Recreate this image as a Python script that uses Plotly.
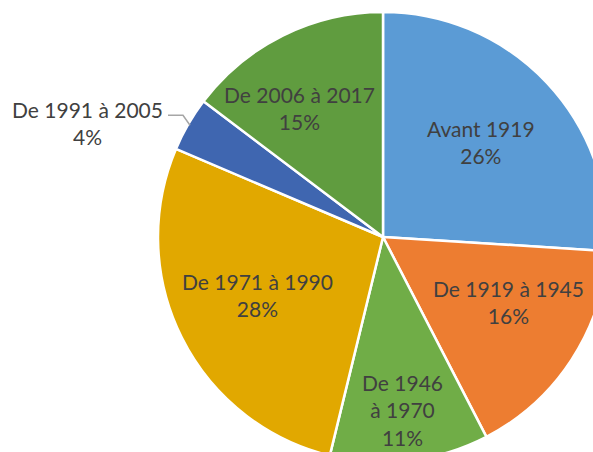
import math
import plotly.graph_objects as go

# ---- data ----
labels = ["Avant 1919", "De 1919 à 1945", "De 1946 à 1970", "De 1971 à 1990",
          "De 1991 à 2005", "De 2006 à 2017"]
values = [26.0, 16.4, 11.4, 27.6, 3.9, 14.7]
display = ["Avant 1919", "De 1919 à 1945", "De 1946<br>à 1970", "De 1971 à 1990",
           "De 1991 à 2005", "De 2006 à 2017"]

# ---- style ----
colors = ["#5B9BD5", "#ED7D31", "#70AD47", "#E1A800", "#3F66B0", "#609C3F"]
label_r = [0.605, 0.63, 0.78, 0.616, None, 0.68]      # label distance, fraction of radius
label_dang = [-0.5, -5.5, 0.6, 1.4, 0.0, -6.6]         # label angle tweak, degrees
outside_idx = 4                                        # small slice labelled outside
FONT = dict(family="Lato, Open Sans, sans-serif", size=21, color="#404040")

# ---- geometry (figure larger than window so the pie is cropped like the reference) ----
W, H = 640, 480
cx_px, cy_px, R = 383, 237, 225
xc, yc = cx_px / W, 1 - cy_px / H
dom_x = [xc - 0.38, xc + 0.38]
dom_y = [yc - R / H, yc + R / H]


def px(x, y):
    return x / W, 1 - y / H


fig = go.Figure(go.Pie(
    labels=labels, values=values,
    sort=False, direction="clockwise", rotation=0,
    marker=dict(colors=colors, line=dict(color="white", width=2.5)),
    textinfo="none", hoverinfo="label+percent", showlegend=False,
    domain=dict(x=dom_x, y=dom_y),
))

total = sum(values)
cum = 0
for i, v in enumerate(values):
    mid_deg = (cum + v / 2) / total * 360
    cum += v
    pct = round(v / total * 100)
    txt = f"{display[i]}<br>{pct}%"
    if i == outside_idx:
        a = math.radians(mid_deg)
        ax_px = cx_px + math.sin(a) * (R - 2)
        ay_px = cy_px - math.cos(a) * (R - 2)
        elbow = (ax_px - 7, ay_px - 10)
        end = (elbow[0] - 15, elbow[1])
        p0, p1, p2 = px(ax_px, ay_px), px(*elbow), px(*end)
        fig.add_shape(type="path", xref="paper", yref="paper",
                      path=f"M {p0[0]} {p0[1]} L {p1[0]} {p1[1]} L {p2[0]} {p2[1]}",
                      line=dict(color="#A6A6A6", width=1.5))
        fig.add_annotation(xref="paper", yref="paper", x=p2[0], y=p2[1],
                           xanchor="right", yanchor="middle", xshift=-3, yshift=-8,
                           text=txt, showarrow=False, align="center", font=FONT)
    else:
        a = math.radians(mid_deg + label_dang[i])
        lx = cx_px + math.sin(a) * R * label_r[i]
        ly = cy_px - math.cos(a) * R * label_r[i]
        p = px(lx, ly)
        fig.add_annotation(xref="paper", yref="paper", x=p[0], y=p[1],
                           xanchor="center", yanchor="middle", yshift=1,
                           text=txt, showarrow=False, align="center", font=FONT)

fig.update_layout(width=W, height=H, margin=dict(l=0, r=0, t=0, b=0),
                  paper_bgcolor="white", plot_bgcolor="white")

fig.write_html("out.html", config={"displayModeBar": False},
               post_script="document.body.style.margin='0';document.body.style.overflow='hidden';")
